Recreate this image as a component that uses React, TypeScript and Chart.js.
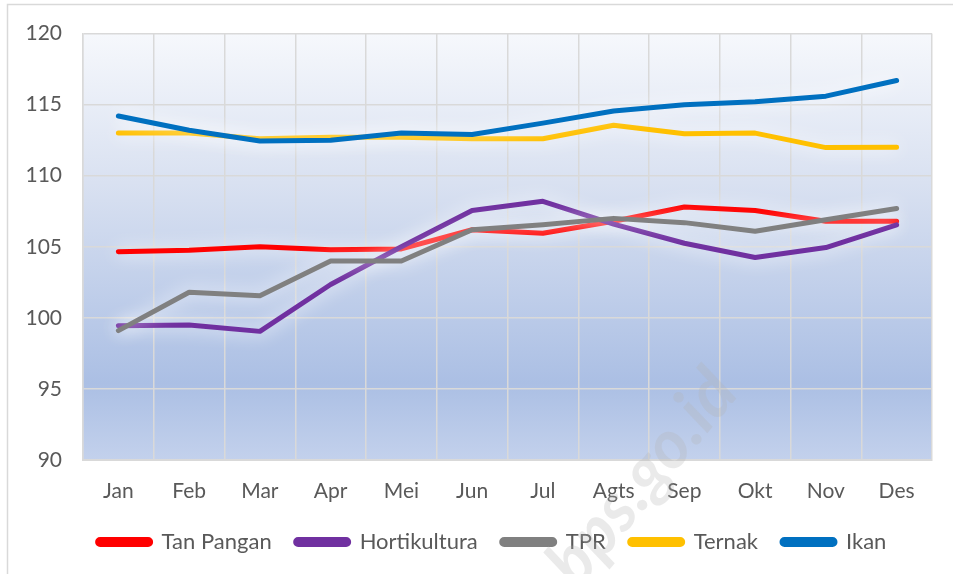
import React, { useEffect, useRef } from "react";
import { Chart, registerables } from "chart.js";

Chart.register(...registerables);

const months = ["Jan", "Feb", "Mar", "Apr", "Mei", "Jun", "Jul", "Agts", "Sep", "Okt", "Nov", "Des"];
const tanPangan = [104.65, 104.75, 105.0, 104.8, 104.85, 106.2, 105.95, 106.8, 107.8, 107.55, 106.8, 106.8];
const hortikultura = [99.45, 99.5, 99.05, 102.35, 105.0, 107.55, 108.2, 106.6, 105.25, 104.25, 104.95, 106.55];
const tpr = [99.1, 101.8, 101.55, 104.0, 104.0, 106.2, 106.55, 107.0, 106.7, 106.1, 106.9, 107.7];
const ternak = [113.0, 113.0, 112.6, 112.7, 112.7, 112.6, 112.6, 113.55, 112.95, 113.0, 111.98, 112.0];
const ikan = [114.2, 113.2, 112.45, 112.5, 113.0, 112.9, 113.7, 114.55, 115.0, 115.2, 115.6, 116.7];
const yTicks = [90, 95, 100, 105, 110, 115, 120];

const FONT = "Lato, 'Open Sans', sans-serif";

export default function App() {
  const ref = useRef<HTMLCanvasElement | null>(null);
  useEffect(() => {
    if (!ref.current) return;
    const bgPlugin = {
      id: "bg",
      afterLayout(chart: any) {
        const lg = chart.legend;
        if (lg) {
          lg.left += 26;
          lg.right += 26;
          lg.top += 1;
          lg.bottom += 1;
        }
      },
      beforeDraw(chart: any) {
        const { ctx, chartArea } = chart;
        ctx.save();
        ctx.fillStyle = "#ffffff";
        ctx.fillRect(0, 0, chart.width, chart.height);
        ctx.strokeStyle = "#d9d9d9";
        ctx.lineWidth = 1.5;
        ctx.strokeRect(7.5, 4.5, chart.width + 20, chart.height + 20);
        ctx.fillStyle = "#000000";
        ctx.font = "bold 18px " + FONT;
        ctx.textAlign = "center";
        ctx.textBaseline = "alphabetic";
        ctx.fillText("(2018=100)", 516, -4);
        const g = ctx.createLinearGradient(0, chartArea.top, 0, chartArea.bottom);
        g.addColorStop(0, "#f6f8fc");
        g.addColorStop(0.35, "#d9e1f1");
        g.addColorStop(0.82, "#abbfe4");
        g.addColorStop(1, "#c3d1ec");
        ctx.fillStyle = g;
        ctx.fillRect(chartArea.left, chartArea.top, chartArea.right - chartArea.left, chartArea.bottom - chartArea.top);
        ctx.restore();
      },
      beforeDatasetDraw(chart: any) {
        const ctx = chart.ctx;
        ctx.save();
        ctx.shadowColor = "rgba(255,255,255,1)";
        ctx.shadowBlur = 18;
      },
      afterDatasetDraw(chart: any) {
        chart.ctx.restore();
      },
      afterDraw(chart: any) {
        const ctx = chart.ctx;
        ctx.save();
        ctx.translate(642, 478);
        ctx.rotate(-0.88);
        ctx.fillStyle = "rgba(180,180,180,0.28)";
        ctx.font = "bold italic 68px " + FONT;
        ctx.textAlign = "center";
        ctx.textBaseline = "middle";
        ctx.fillText("bps.go.id", 0, 0);
        ctx.restore();
      },
    };

    const mk = (label: string, data: number[], color: string, order: number) => ({
      label,
      data,
      borderColor: color,
      backgroundColor: color,
      borderWidth: 5,
      pointRadius: 0,
      tension: 0,
      borderCapStyle: "round" as const,
      borderJoinStyle: "round" as const,
      fill: false,
      order,
    });

    const chart = new Chart(ref.current, {
      type: "line",
      data: {
        labels: months,
        datasets: [
          mk("Tan Pangan", tanPangan, "#ff0000", 5),
          mk("Hortikultura", hortikultura, "#7030a0", 4),
          mk("TPR", tpr, "#808080", 3),
          mk("Ternak", ternak, "#ffc000", 2),
          mk("Ikan", ikan, "#0070c0", 1),
        ],
      },
      options: {
        responsive: false,
        animation: false,
        events: [],
        layout: { padding: { top: 24, right: 21, bottom: 12, left: 0 } },
        plugins: {
          title: { display: false },
          tooltip: { enabled: false },
          legend: {
            position: "bottom",
            labels: {
              boxWidth: 53,
              boxHeight: 5,
              useBorderRadius: true,
              borderRadius: 2.5,
              padding: 24,
              color: "#595959",
              font: { family: FONT, size: 22 },
              sort: (a: any, b: any) => a.datasetIndex - b.datasetIndex,
            },
          },
        },
        scales: {
          x: {
            offset: true,
            grid: { color: "#d9d9d9", lineWidth: 1.5, offset: true, drawTicks: false },
            border: { color: "#d9d9d9", width: 2 },
            ticks: { color: "#595959", font: { family: FONT, size: 21 }, padding: 19 },
            afterFit(scale: any) {
              scale.height = 46;
            },
          },
          y: {
            min: 90,
            max: 120,
            afterBuildTicks(scale: any) {
              scale.ticks = yTicks.map((v) => ({ value: v }));
            },
            grid: { color: "#d9d9d9", lineWidth: 1.5, drawTicks: false },
            border: { color: "#d9d9d9", width: 1.5 },
            ticks: { color: "#595959", font: { family: FONT, size: 21 }, padding: 21 },
            afterFit(scale: any) {
              scale.width = 83;
            },
          },
        },
      },
      plugins: [bgPlugin],
    });
    return () => chart.destroy();
  }, []);

  return (
    <div style={{ position: "fixed", left: 0, top: 0, width: 953, height: 574 }}>
      <canvas ref={ref} width={953} height={574} style={{ display: "block" }} />
    </div>
  );
}
